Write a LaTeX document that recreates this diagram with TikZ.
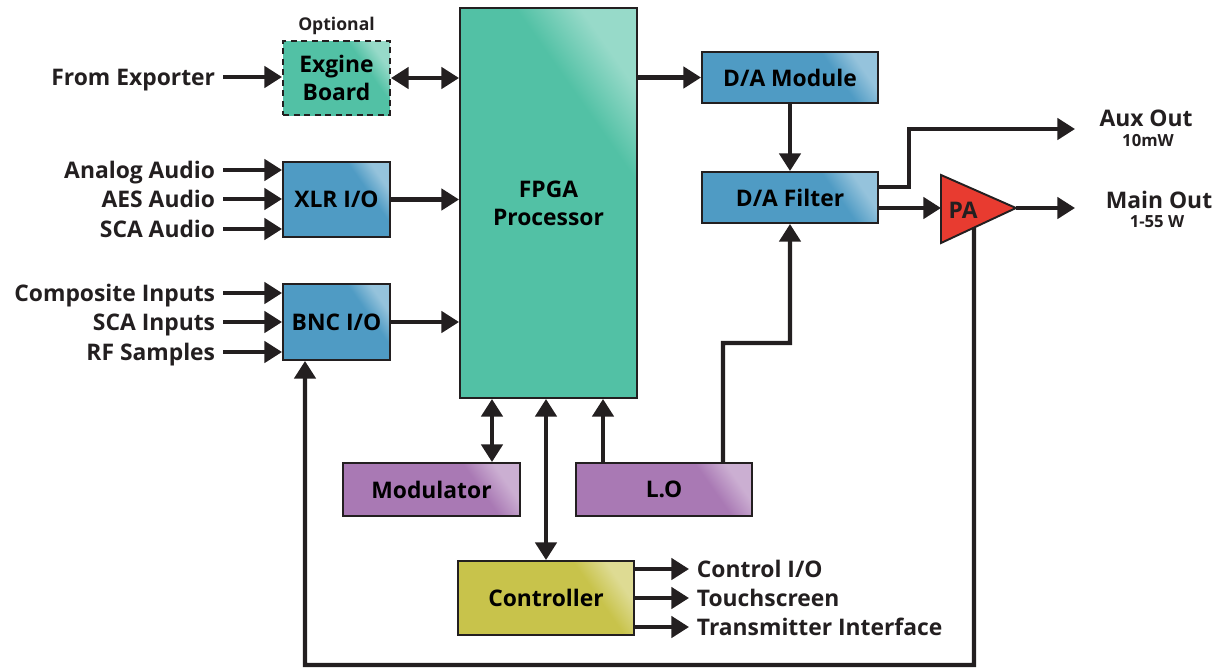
\documentclass[tikz,border=0pt]{standalone}
\usepackage{fontspec}
\setmainfont{Open Sans}
\usetikzlibrary{arrows.meta}
\definecolor{ink}{HTML}{231F20}
\definecolor{tealfill}{HTML}{52C1A5}
\definecolor{bluefill}{HTML}{4F9BC4}
\definecolor{purplefill}{HTML}{A979B4}
\definecolor{olivefill}{HTML}{C8C34B}
\definecolor{redfill}{HTML}{E83B30}
\colorlet{glossbase}{tealfill}
\pgfdeclarehorizontalshading[glossbase]{gloss}{100bp}{color(0bp)=(glossbase); color(66bp)=(glossbase); color(76bp)=(glossbase!60!white); color(100bp)=(glossbase!60!white)}
\tikzset{
  blk/.style={draw=ink,line width=1.1pt,inner sep=0pt,align=center,
    font=\bfseries\fontsize{13}{16}\selectfont,shading=gloss,shading angle=35},
  sz/.style 2 args={minimum width=#1*0.02cm,minimum height=#2*0.02cm},
  tealblk/.style={blk,/utils/exec={\colorlet{glossbase}{tealfill}}},
  blueblk/.style={blk,/utils/exec={\colorlet{glossbase}{bluefill}}},
  purpleblk/.style={blk,/utils/exec={\colorlet{glossbase}{purplefill}}},
  oliveblk/.style={blk,/utils/exec={\colorlet{glossbase}{olivefill}}},
  lbl/.style={text=ink,font=\bfseries\fontsize{13}{15}\selectfont,inner sep=0pt,outer xsep=4.5pt,
    text height=9.3pt,text depth=0pt},
  sublbl/.style={text=ink,font=\bfseries\fontsize{9.5}{11}\selectfont,inner sep=0pt,
    text height=6.8pt,text depth=0pt},
  arr/.style={draw=ink,line width=2.3pt,-{Triangle[length=10pt,width=12pt]}},
  darr/.style={draw=ink,line width=2.3pt,{Triangle[length=10pt,width=12pt]}-{Triangle[length=10pt,width=12pt]}},
}
\begin{document}
\begin{tikzpicture}[x=0.02cm,y=-0.02cm]
  \useasboundingbox (0,0) rectangle (1223,670);
  % blocks
  \node[tealblk,sz={107}{74},dash pattern=on 3.5pt off 2.5pt] (exg) at (336.5,78) {Exgine\\Board};
  \node[sublbl,font=\bfseries\fontsize{10}{11}\selectfont,text height=7.2pt] (opt) at (336.5,24) {Optional};
  \node[tealblk,sz={177}{390}] (fpga) at (548.5,203) {FPGA\\Processor};
  \node[blueblk,sz={107}{75}] (xlr) at (336.5,199.5) {XLR I/O};
  \node[blueblk,sz={107}{76}] (bnc) at (336.5,322) {BNC I/O};
  \node[blueblk,sz={176}{51}] (dam) at (790,77.5) {D/A Module};
  \node[blueblk,sz={176}{51}] (daf) at (790,197.5) {D/A Filter};
  \node[purpleblk,sz={177}{53}] (mod) at (431.5,489.5) {Modulator};
  \node[purpleblk,sz={176}{53}] (lo) at (664,489.5) {L.O};
  \node[oliveblk,sz={176}{74}] (ctrl) at (546,598) {Controller};
  \draw[draw=ink,line width=1.1pt,fill=redfill] (941,175) -- (1016,208) coordinate (paout) -- (941,243) -- cycle;
  \node[lbl,outer xsep=0pt] (pa) at (963,210) {PA};
  \coordinate (pain) at (941,208);
  \coordinate (pafb) at (974,228);
  % inputs
  \node[lbl,anchor=east] (fe) at (223,77) {From Exporter};
  \node[lbl,anchor=east] (aa) at (223,170) {Analog Audio};
  \node[lbl,anchor=east] (aes) at (223,199) {AES Audio};
  \node[lbl,anchor=east] (sca) at (223,229) {SCA Audio};
  \node[lbl,anchor=east] (ci) at (223,293) {Composite Inputs};
  \node[lbl,anchor=east] (sci) at (223,322) {SCA Inputs};
  \node[lbl,anchor=east] (rf) at (223,352) {RF Samples};
  \draw[arr] (fe.east) -- (fe.east -| exg.west);
  \foreach \n in {aa,aes,sca} \draw[arr] (\n.east) -- (\n.east -| xlr.west);
  \foreach \n in {ci,sci,rf} \draw[arr] (\n.east) -- (\n.east -| bnc.west);
  % outputs
  \node[lbl,anchor=west] (cio) at (689,569) {Control I/O};
  \node[lbl,anchor=west] (ts) at (689,598) {Touchscreen};
  \node[lbl,anchor=west] (ti) at (689,627) {Transmitter Interface};
  \foreach \n in {cio,ts,ti} \draw[arr] (ctrl.east |- \n.west) -- (\n.west);
  \node[lbl] (aux) at (1146,118) {Aux Out};
  \node[sublbl] (auxp) at (1148,141) {10mW};
  \node[lbl] (main) at (1159,200) {Main Out};
  \node[sublbl] (mainp) at (1157,222) {1-55 W};
  \coordinate (auxend) at (1075,129);
  \coordinate (mainend) at (1075,208);
  % links
  \draw[darr] (exg.east) -- (exg.east -| fpga.west);
  \draw[arr] (xlr.east) -- (xlr.east -| fpga.west);
  \draw[arr] (bnc.east) -- (bnc.east -| fpga.west);
  \draw[arr] (fpga.east |- dam) -- (dam.west);
  \draw[arr] (dam) -- (daf);
  \draw[arr] ([yshift=0.21cm]daf.east) -- ++(30,0) |- (auxend);
  \draw[arr] (daf.east |- pain) -- (pain);
  \draw[arr] (paout) -- (mainend);
  \coordinate (fbcorner) at (305,665);
  \draw[arr] (pafb) |- (fbcorner) -- ([xshift=-0.63cm]bnc.south);
  \coordinate (lobend) at (723,343);
  \draw[arr] ([xshift=1.18cm]lo.north) -- (lobend) -| (daf.south);
  \draw[arr] ([xshift=-1.22cm]lo.north) -- ([xshift=-1.22cm]lo.north |- fpga.south);
  \draw[darr] ([xshift=1.21cm]mod.north) -- ([xshift=1.21cm]mod.north |- fpga.south);
  \draw[darr] (ctrl.north) -- (fpga.south -| ctrl.north);
\end{tikzpicture}
\end{document}
